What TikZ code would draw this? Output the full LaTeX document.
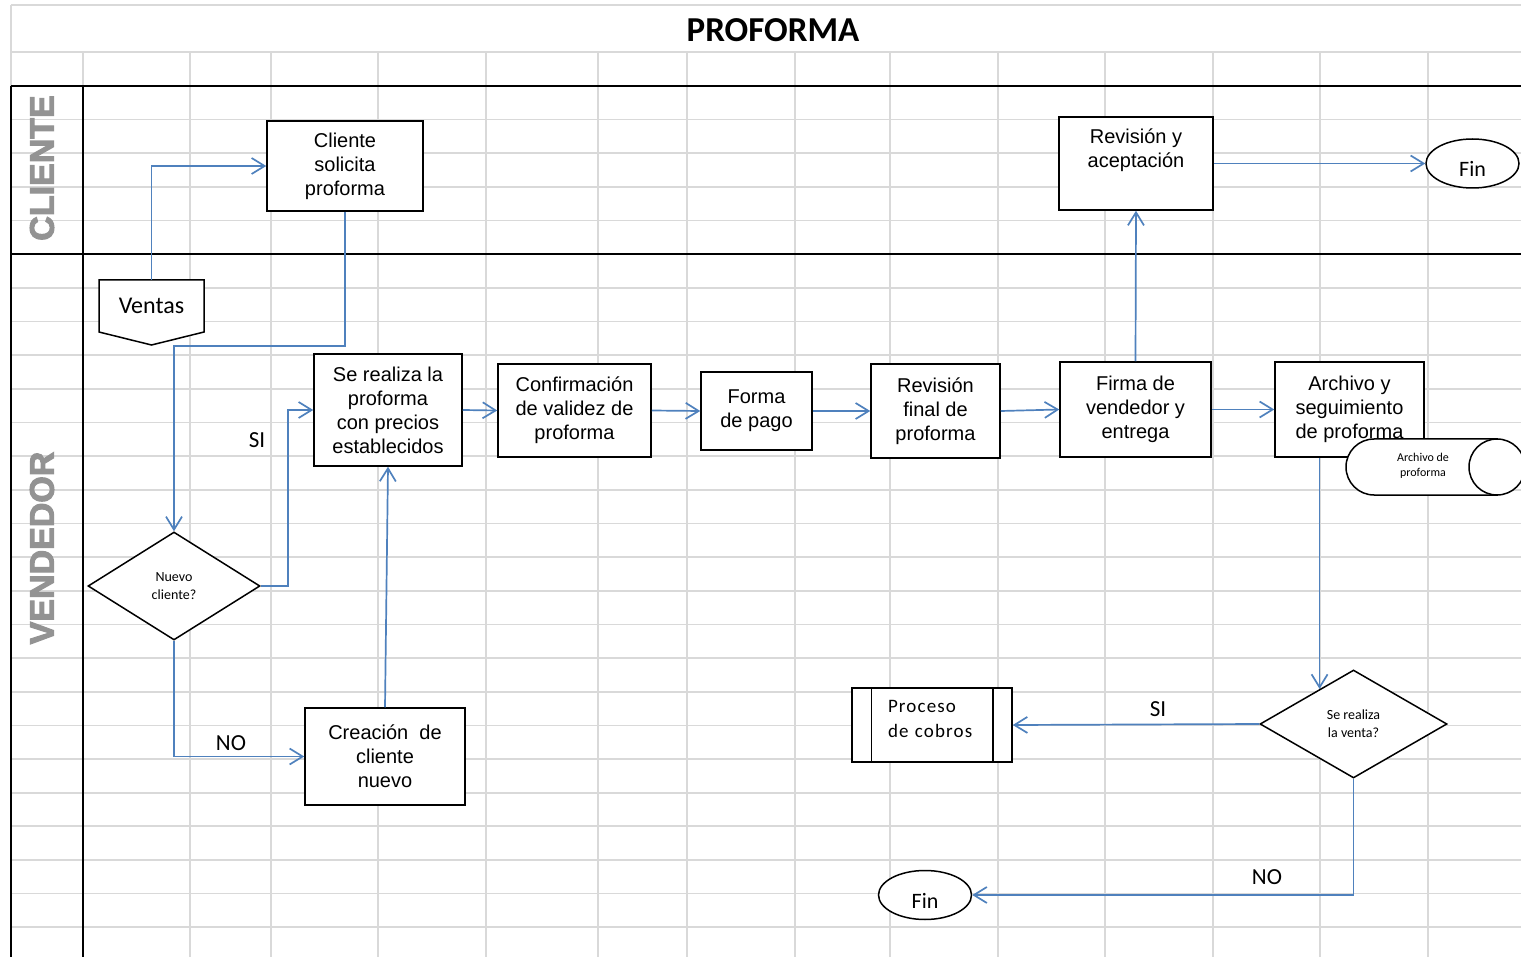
\documentclass[tikz,border=0pt]{standalone}
\usepackage{fontspec}
\setmainfont{Liberation Sans}
\newfontfamily\calibri{Carlito}
\newfontfamily\calibrispaced[LetterSpace=6]{Carlito}
\newfontfamily\lanefont[BoldFeatures={FakeBold=3}]{Liberation Sans}
\usetikzlibrary{shapes.geometric,arrows.meta,calc}

\definecolor{flowblue}{HTML}{4F81BD}
\definecolor{gridgray}{HTML}{D9D9D9}
\definecolor{lanegray}{HTML}{939393}

\tikzset{
	>={Straight Barb[length=13pt,width=16pt]},
	gridline/.style={draw=gridgray,line width=1.7pt},
	flow/.style={draw=flowblue,line width=1.7pt},
	task/.style={draw,line width=1.5pt,fill=white,align=center,inner sep=2pt,font=\fontsize{20}{24}\selectfont},
	decision/.style={diamond,draw,line width=1.5pt,fill=white,inner sep=0pt,align=center,font=\calibri\fontsize{14}{18}\selectfont},
	terminal/.style={ellipse,draw,line width=1.5pt,fill=white,minimum width=93,minimum height=49,inner sep=0pt,text height=26pt,text depth=0pt,font=\calibri\fontsize{22}{26}\selectfont},
	tag/.style={font=\calibri\fontsize{23}{26}\selectfont},
	lane/.style={rotate=90,text=lanegray,font=\lanefont\bfseries\fontsize{34}{34}\selectfont}
}

\begin{document}
\begin{tikzpicture}[x=1pt,y=-1pt]
		\useasboundingbox (0,0) rectangle (1521,957);
		\clip (0,0) rectangle (1521,957);
		\foreach \x in {83,190,271,378,486,598,687,795,890,998,1105,1213,1320,1428}
			\draw[gridline] (\x,52) -- (\x,957);
		\foreach \i in {1,...,26}
			\draw[gridline] (11,{86+33.65*\i}) -- (1521,{86+33.65*\i});
		\draw[gridline] (11,5) -- (1521,5) (11,52) -- (1521,52) (11,5) -- (11,86);
		\draw[line width=2.4pt] (11,86) -- (1521,86) (11,254) -- (1521,254) (11,86) -- (11,957) (83,86) -- (83,957);
		\node[font=\calibri\bfseries\fontsize{35}{40}\selectfont] (titulo) at (773,30) {PROFORMA};
		\node[lane] (cli) at (42,168) {CLIENTE};
		\node[lane] (ven) at (42,548) {VENDEDOR};
		\draw[line width=1.5pt,fill=white] (99,280) -- (204,280) -- (204,332) -- (151.5,345) -- (99,332) -- cycle;
		\node[minimum width=105,minimum height=52,inner sep=0pt,font=\calibri\fontsize{24}{28}\selectfont] (ventas) at (151.5,306) {Ventas};
		\node[task,minimum width=156,minimum height=90] (cliente) at (345,166) {Cliente\\solicita\\proforma};
		\node[task,minimum width=148,minimum height=112] (proforma) at (388,410) {Se realiza la\\proforma\\con precios\\establecidos};
		\node[task,minimum width=153,minimum height=93] (confirm) at (574.5,410.5) {Confirmación\\de validez de\\proforma};
		\node[task,minimum width=111,minimum height=78] (pago) at (756.5,411) {Forma\\de pago};
		\node[task,minimum width=129,minimum height=94] (revfinal) at (935.5,411) {Revisión\\final de\\proforma};
		\node[task,minimum width=151,minimum height=95] (firma) at (1135.5,409.5) {Firma de\\vendedor y\\entrega};
		\node[task,minimum width=149,minimum height=95] (archivo) at (1349.5,409.5) {Archivo y\\seguimiento\\de proforma};
		\node[task,minimum width=154,minimum height=93] (aceptacion) at (1136,163.5) {Revisión y\\aceptación\\[6pt]\mbox{}};
		\node[task,minimum width=160,minimum height=97] (creacion) at (385,756.5) {Creación\ \ de\\cliente\\nuevo};
		\node[task,minimum width=160,minimum height=74,text width=88,align=left,text depth=37pt,font=\calibrispaced\fontsize{19}{25}\selectfont] (cobros) at (932,725) {Proceso\\de cobros};
		\draw[line width=1.5pt] ([xshift=20]cobros.north west) -- ([xshift=20]cobros.south west) ([xshift=-20]cobros.north east) -- ([xshift=-20]cobros.south east);
		\node[decision,minimum width=172,minimum height=108] (nuevo) at (174,586) {Nuevo\\cliente?};
		\node[decision,minimum width=187,minimum height=108] (venta) at (1353.5,724) {Se realiza\\la venta?};
		\node[terminal] (fin1) at (1472.5,163.5) {Fin};
		\node[terminal] (fin2) at (925,895) {Fin};
		\draw[line width=1.5pt,fill=white] (1374,439) arc[start angle=270,end angle=90,radius=28] -- (1497,495) -- (1497,439) -- cycle;
		\draw[line width=1.5pt,fill=white] (1497,467) circle[radius=28];
		\node[align=center,inner sep=0pt,font=\calibri\fontsize{12}{15}\selectfont] (archivado) at (1423,466) {Archivo de\\proforma};
		\coordinate (ventatop) at ($(venta.north)!0.36!(venta.west)$);
		\draw[flow,->] (ventas.north) |- (cliente.west);
		\draw[flow,->] (cliente.south) -- ++(0,134) -| (nuevo.north);
		\draw[flow,->] (nuevo.east) -- ++(27,0) |- (proforma.west);
		\draw[flow,->] (nuevo.south) |- (creacion.west);
		\draw[flow,->] (creacion.north) -- (proforma.south);
		\draw[flow,->] (proforma.east) -- (confirm.west);
		\draw[flow,->] (confirm.east) -- (pago.west);
		\draw[flow,->] (pago.east) -- (revfinal.west);
		\draw[flow,->] (revfinal.east) -- (firma.west);
		\draw[flow,->] (firma.east) -- (archivo.west);
		\draw[flow,->] (firma.north) -- (aceptacion.south);
		\draw[flow,->] (aceptacion.east) -- (fin1.west);
		\draw[flow,->] (archivo.south -| ventatop) -- (ventatop);
		\draw[flow,->] (venta.west) -- (cobros.east);
		\draw[flow,->] (venta.south) |- (fin2.east);
		\node[tag] (si1) at (257,440) {SI};
		\node[tag] (no1) at (231,743) {NO};
		\node[tag] (si2) at (1158,709) {SI};
		\node[tag] (no2) at (1267,877) {NO};
	\end{tikzpicture}
\end{document}
